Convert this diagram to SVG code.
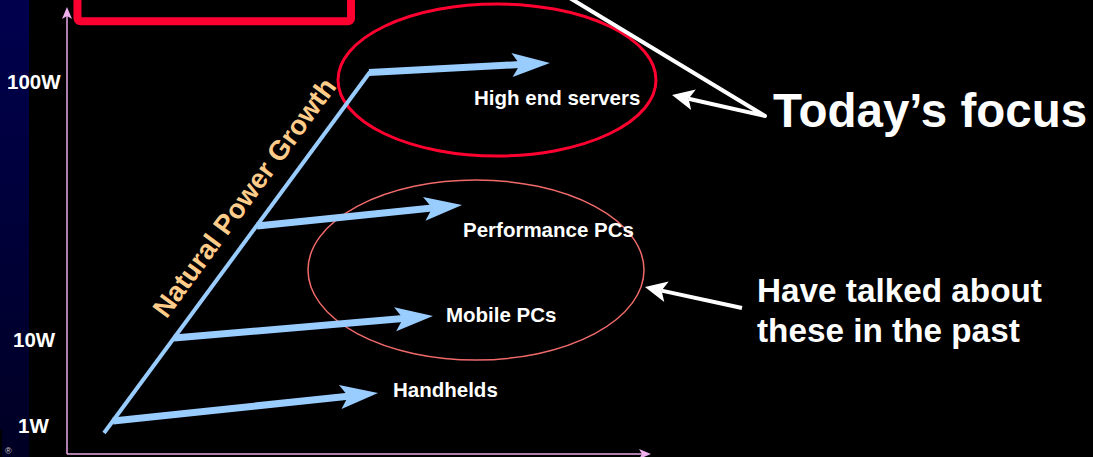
<svg xmlns="http://www.w3.org/2000/svg" width="1093" height="457" viewBox="0 0 1093 457">
  <defs>
    <linearGradient id="strip" x1="0" y1="0" x2="0" y2="1">
      <stop offset="0" stop-color="#00004e"/>
      <stop offset="1" stop-color="#000024"/>
    </linearGradient>
    <marker id="blueHead" markerUnits="userSpaceOnUse" viewBox="0 -13 40 26" markerWidth="40" markerHeight="26" refX="8" refY="0" orient="auto" overflow="visible">
      <path d="M0,-12 L38,0 L0,12 L8,0 Z" fill="#99ccff"/>
    </marker>
    <marker id="whiteHead" markerUnits="userSpaceOnUse" viewBox="0 -11 24 22" markerWidth="24" markerHeight="22" refX="5" refY="0" orient="auto" overflow="visible">
      <path d="M0,-10.5 L22,0 L0,10.5 L5,0 Z" fill="#ffffff"/>
    </marker>
    <marker id="axisHead" markerUnits="userSpaceOnUse" viewBox="0 -5 12 10" markerWidth="12" markerHeight="10" refX="3" refY="0" orient="auto" overflow="visible">
      <path d="M0,-5 L12,0 L0,5 L3,0 Z" fill="#f0b0f0"/>
    </marker>
  </defs>
  <style>
    text { font-family: "Liberation Sans", Arial, sans-serif; font-weight: bold; fill: #ffffff; }
    .lbl { font-size: 20.5px; }
    .big { font-size: 47.5px; }
    .mid { font-size: 33.3px; }
    .axis { stroke: #e8a8e8; stroke-width: 1.5; fill: none; }
    .branch { stroke: #99ccff; stroke-width: 7; fill: none; marker-end: url(#blueHead); }
    .callout { stroke: #ffffff; stroke-width: 4; fill: none; stroke-linejoin: round; marker-end: url(#whiteHead); }
  </style>

  <rect x="0" y="0" width="1093" height="457" fill="#000000"/>
  <rect id="side-strip" x="0" y="0" width="29" height="457" fill="url(#strip)"/>
  <rect x="0" y="430" width="2" height="27" fill="#000000"/>
  <text x="5" y="454" style="font-size:9px;font-weight:normal;fill:#cccccc">®</text>

  <g id="title-box">
    <rect x="77.5" y="-40" width="273.5" height="61.3" rx="3" fill="none" stroke="#ff0030" stroke-width="8"/>
  </g>

  <g id="axes">
    <line class="axis" x1="67" y1="454" x2="67" y2="16" marker-end="url(#axisHead)"/>
    <line class="axis" x1="67" y1="454" x2="642" y2="454" marker-end="url(#axisHead)"/>
    <text class="lbl" x="7" y="89">100W</text>
    <text class="lbl" x="13" y="347">10W</text>
    <text class="lbl" x="18" y="433">1W</text>
  </g>

  <g id="focus-ellipse">
    <ellipse cx="497" cy="80" rx="159" ry="76" fill="none" stroke="#ff0030" stroke-width="3"/>
  </g>
  <g id="past-ellipse">
    <ellipse cx="476" cy="270" rx="168" ry="90" fill="none" stroke="#f06a6a" stroke-width="1.5"/>
  </g>

  <g id="connectors">
    <line id="growth-line" x1="104" y1="433" x2="370" y2="72" stroke="#99ccff" stroke-width="4"/>
    <line class="branch" x1="369" y1="72.5" x2="520" y2="64.5"/>
    <line class="branch" x1="257" y1="226" x2="432.2" y2="208.1"/>
    <line class="branch" x1="174" y1="338" x2="403.1" y2="318.5"/>
    <line class="branch" x1="113" y1="421" x2="348.2" y2="396.2"/>
    <polyline class="callout" points="540,-20 765,116 688.6,98.7"/>
    <line class="callout" x1="742" y1="308" x2="661.6" y2="290.6"/>
  </g>

  <g id="growth-label">
    <text x="252" y="203" text-anchor="middle" transform="rotate(-53.7 252 203)" style="font-size:27.5px;fill:#ffcc8a">Natural Power Growth</text>
  </g>

  <g id="node-servers"><text class="lbl" x="474" y="105">High end servers</text></g>
  <g id="node-performance"><text class="lbl" x="463" y="237">Performance PCs</text></g>
  <g id="node-mobile"><text class="lbl" x="446" y="322">Mobile PCs</text></g>
  <g id="node-handhelds"><text class="lbl" x="393" y="397">Handhelds</text></g>

  <g id="note-focus"><text class="big" x="773" y="127">Today’s focus</text></g>
  <g id="note-past">
    <text class="mid" x="757" y="302">Have talked about</text>
    <text class="mid" x="757" y="342">these in the past</text>
  </g>
</svg>
